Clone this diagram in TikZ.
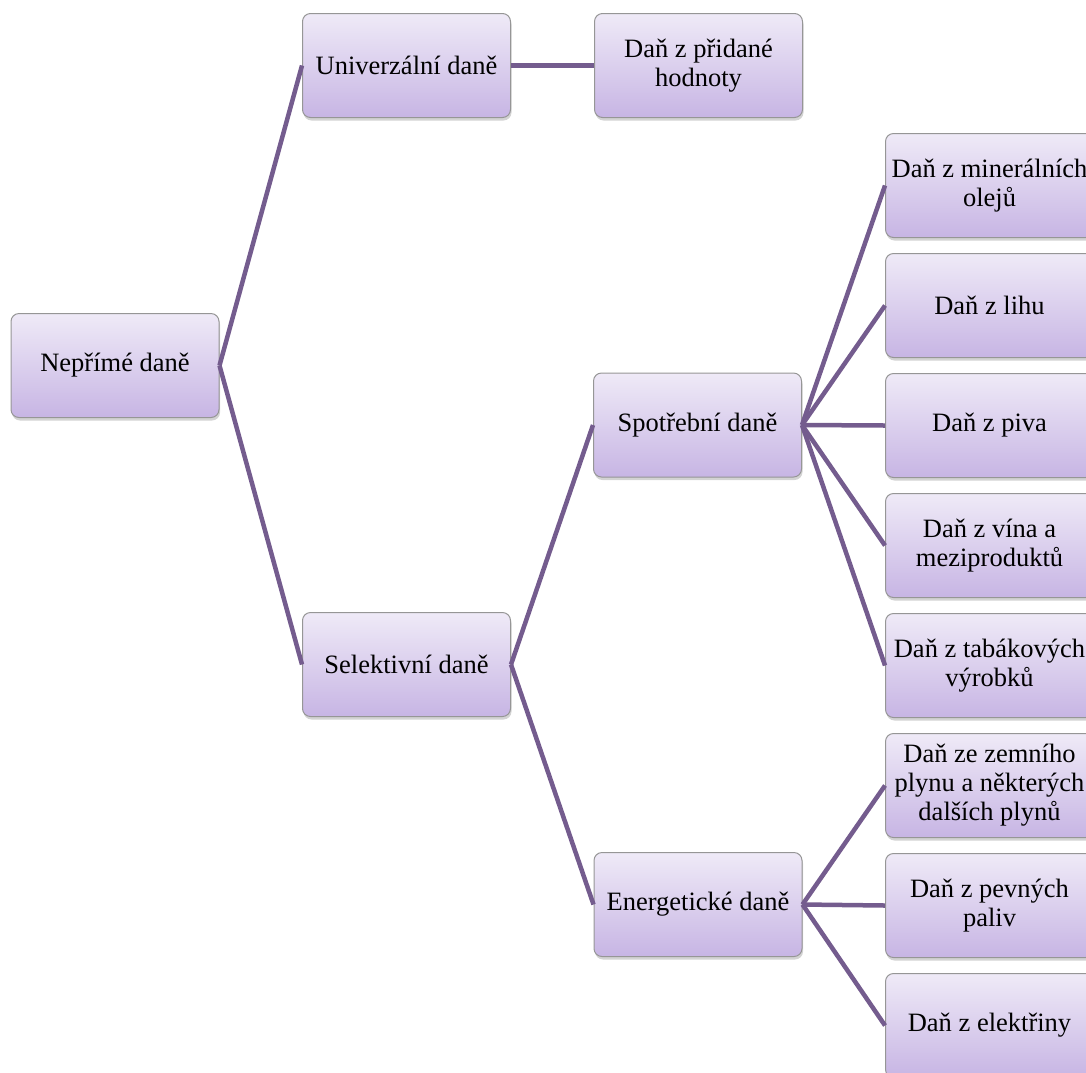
\documentclass[tikz,border=0pt]{standalone}
\usepackage{fontspec}
\setmainfont{Liberation Serif}
\usetikzlibrary{positioning,shadows}
\definecolor{boxtop}{RGB}{239,234,247}
\definecolor{boxbot}{RGB}{199,181,228}
\definecolor{boxedge}{RGB}{150,150,150}
\definecolor{linkpurple}{RGB}{116,92,142}

\begin{document}
\begin{tikzpicture}[x=1pt, y=-1pt,
    taxbox/.style={rectangle, draw=boxedge, line width=1pt,
        top color=boxtop, bottom color=boxbot,
        minimum width=208pt, minimum height=104pt, rounded corners=8pt,
        align=center, font=\fontsize{26.5}{29}\selectfont,
        drop shadow={shadow xshift=1pt, shadow yshift=-3pt, opacity=0.35}},
    link/.style={line width=4.5pt, linkpurple}
]
    \useasboundingbox (0,0) rectangle (1086,1072);

    % levels
    \node[taxbox] (root) at (115,365.5) {Nepřímé daně};
    \node[taxbox] (univ) at (406.5,65.5) {Univerzální daně};
    \node[taxbox, right=83pt of univ] (dph) {Daň z přidané\\hodnoty};
    \node[taxbox] (sel) at (406.5,664.5) {Selektivní daně};
    \node[taxbox] (spot) at (697.5,425) {Spotřební daně};
    \node[taxbox] (ener) at (698,904.5) {Energetické daně};

    % right column
    \node[taxbox] (oil) at (989.5,185.5) {Daň z minerálních\\olejů};
    \node[taxbox, below=15pt of oil] (lih) {Daň z lihu};
    \node[taxbox, below=15pt of lih] (pivo) {Daň z piva};
    \node[taxbox, below=15pt of pivo] (vino) {Daň z vína a\\meziproduktů};
    \node[taxbox, below=15pt of vino] (tabak) {Daň z tabákových\\výrobků};
    \node[taxbox, below=15pt of tabak] (plyn) {Daň ze zemního\\plynu a některých\\dalších plynů};
    \node[taxbox, below=15pt of plyn] (paliva) {Daň z pevných\\paliv};
    \node[taxbox, below=15pt of paliva] (elek) {Daň z elektřiny};

    \draw[link] (root.east) -- (univ.west);
    \draw[link] (root.east) -- (sel.west);
    \draw[link] (univ.east) -- (dph.west);
    \draw[link] (sel.east) -- (spot.west);
    \draw[link] (sel.east) -- (ener.west);
    \foreach \leaf in {oil,lih,pivo,vino,tabak}
        \draw[link] (spot.east) -- (\leaf.west);
    \foreach \leaf in {plyn,paliva,elek}
        \draw[link] (ener.east) -- (\leaf.west);
\end{tikzpicture}
\end{document}
